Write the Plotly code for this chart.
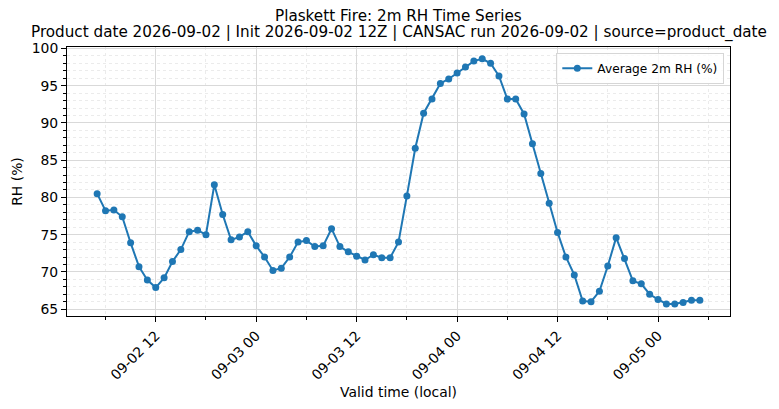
import pandas as pd
import plotly.graph_objects as go

# hourly valid times, local
times = pd.date_range("2026-09-02 05:00", "2026-09-05 05:00", freq="h")

rh = [
    80.5, 78.2, 78.3, 77.4, 73.9, 70.7, 68.9, 67.9, 69.2, 71.4,
    73.0, 75.4, 75.6, 75.0, 81.7, 77.7, 74.3, 74.7, 75.4, 73.5,
    72.0, 70.2, 70.5, 72.0, 74.0, 74.2, 73.4, 73.5, 75.8, 73.4,
    72.7, 72.1, 71.6, 72.3, 71.9, 71.9, 74.0, 80.2, 86.6, 91.3,
    93.2, 95.3, 95.9, 96.7, 97.5, 98.3, 98.6, 98.0, 96.3, 93.2,
    93.2, 91.2, 87.2, 83.2, 79.2, 75.3, 72.0, 69.6, 66.1, 66.0,
    67.4, 70.8, 74.6, 71.8, 68.8, 68.4, 67.0, 66.3, 65.7, 65.7,
    65.9, 66.2, 66.2,
]

title_main = "Plaskett Fire: 2m RH Time Series"
title_sub = "Product date 2026-09-02 | Init 2026-09-02 12Z | CANSAC run 2026-09-02 | source=product_date"

fig = go.Figure()
fig.add_trace(go.Scatter(
    x=times, y=rh, mode="lines+markers", name="Average 2m RH (%)",
    line=dict(color="#1f77b4", width=2),
    marker=dict(color="#1f77b4", size=7),
))

# page body has an 8px margin, so the figure is a bit smaller than the window
fig.update_layout(
    width=771, height=401,
    margin=dict(l=59, r=49, t=39, b=93, autoexpand=False),
    paper_bgcolor="white", plot_bgcolor="white",
    font=dict(family="DejaVu Sans", size=13.9, color="black"),
    showlegend=True,
    legend=dict(x=0.9914, y=0.979, xanchor="right", yanchor="top",
                bgcolor="rgba(255,255,255,0.8)", bordercolor="#d6d6d6",
                borderwidth=1, font=dict(size=12.2)),
)

# two-line title above the axes
fig.add_annotation(text=title_main, xref="paper", yref="paper", x=0.5, y=1.0,
                   yshift=31, showarrow=False, xanchor="center", yanchor="middle",
                   font=dict(size=15.2))
fig.add_annotation(text=title_sub, xref="paper", yref="paper", x=0.5, y=1.0,
                   yshift=15, showarrow=False, xanchor="center", yanchor="middle",
                   font=dict(size=15.2))

fig.update_xaxes(
    range=["2026-09-02 01:24", "2026-09-05 08:36"],
    tick0="2026-09-02 00:00", dtick=12 * 3600 * 1000,
    tickformat="%m-%d %H", tickangle=-45,
    ticks="outside", ticklen=5, tickcolor="black",
    showline=True, linecolor="black", linewidth=1, mirror=True,
    showgrid=True, gridcolor="#d9d9d9", gridwidth=1,
    minor=dict(dtick=6 * 3600 * 1000, tick0="2026-09-02 00:00",
               ticks="outside", ticklen=3, tickcolor="black",
               showgrid=True, gridcolor="#ebebeb", griddash="dot"),
    title=dict(text="Valid time (local)", standoff=5, font=dict(size=13.9)),
    zeroline=False, automargin=False,
)

fig.update_yaxes(
    range=[64.08, 100.19],
    tick0=65, dtick=5,
    ticks="outside", ticklen=5, tickcolor="black",
    showline=True, linecolor="black", linewidth=1, mirror=True,
    showgrid=True, gridcolor="#d9d9d9", gridwidth=1,
    minor=dict(dtick=1, ticks="outside", ticklen=3, tickcolor="black",
               showgrid=True, gridcolor="#ebebeb", griddash="dot"),
    title=dict(text="RH (%)", standoff=5, font=dict(size=13.9)),
    zeroline=False, automargin=False,
)

fig.write_html("out.html")
